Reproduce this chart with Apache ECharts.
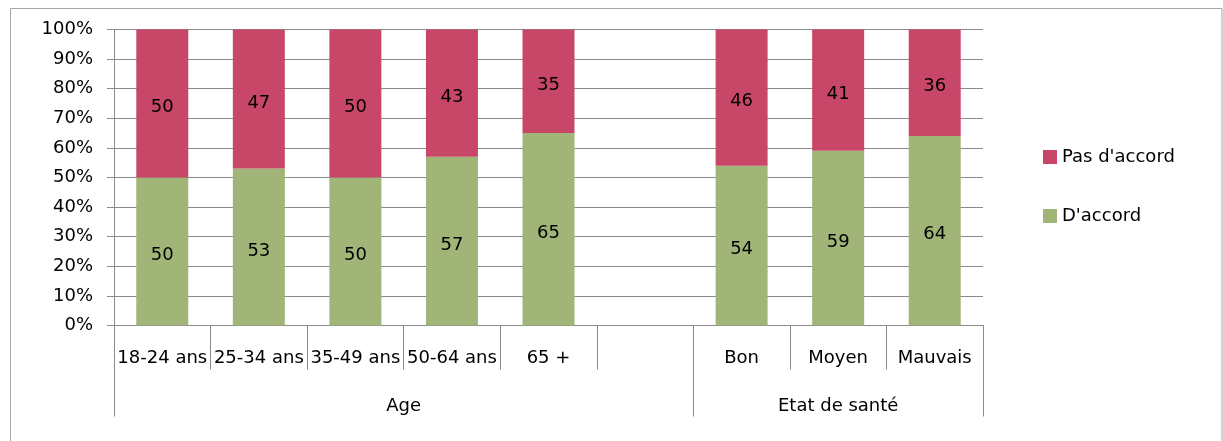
<!DOCTYPE html>
<html>
<head>
<meta charset="utf-8">
<script src="https://cdn.jsdelivr.net/npm/echarts@6/dist/echarts.min.js"></script>
<style>
  html, body { margin: 0; padding: 0; background: #fff; }
  #chart { width: 1223px; height: 441px; }
</style>
</head>
<body>
<div id="chart"></div>
<script>
// Categories (an empty slot separates the two groups)
const categories = ['18-24 ans', '25-34 ans', '35-49 ans', '50-64 ans', '65 +', '', 'Bon', 'Moyen', 'Mauvais'];
// Shares in percent for each category
const dAccord = [50, 53, 50, 57, 65, null, 54, 59, 64];
const pasDAccord = [50, 47, 50, 43, 35, null, 46, 41, 36];
// Group labels with their position along the category span (in bands)
const groupNames = ['Age', 'Etat de santé'];
const groupCenters = [3, 7.5];
const groupBounds = [0, 6, 9];
const yTicks = [0, 10, 20, 30, 40, 50, 60, 70, 80, 90, 100];

const FONT = 'DejaVu Sans';
const GRAY = '#8a8a8a';
const TXT = '#000';

const chart = echarts.init(document.getElementById('chart'), null, { renderer: 'canvas' });

chart.setOption({
  animation: false,
  backgroundColor: '#fff',
  textStyle: { fontFamily: FONT, fontSize: 18, color: TXT },
  graphic: [{
    type: 'rect',
    shape: { x: 10.5, y: 8.5, width: 1211.5, height: 460 },
    style: { fill: 'none', stroke: '#a6a6a6', lineWidth: 1 },
    silent: true,
    z: -1
  }],
  grid: { left: 114, right: 240, top: 29.5, bottom: 115.5 },
  legend: {
    orient: 'vertical',
    left: 1043,
    top: 148,
    padding: 0,
    itemWidth: 14,
    itemHeight: 14,
    itemGap: 41,
    icon: 'rect',
    data: ['Pas d\'accord', 'D\'accord'],
    textStyle: { fontFamily: FONT, fontSize: 18, color: TXT }
  },
  xAxis: [{
    type: 'category',
    data: categories,
    position: 'bottom',
    axisLine: { show: true, lineStyle: { color: GRAY, width: 1 } },
    axisTick: { show: true, length: 44, interval: 0, lineStyle: { color: GRAY, width: 1 } },
    axisLabel: { interval: 0, margin: 24, fontFamily: FONT, fontSize: 18, color: TXT, lineHeight: 18 },
    splitLine: { show: false }
  }, {
    type: 'value',
    min: 0,
    max: 9,
    position: 'bottom',
    axisLine: { show: false },
    splitLine: { show: false },
    axisTick: {
      show: true, length: 91, customValues: groupBounds,
      lineStyle: { color: GRAY, width: 1 }
    },
    axisLabel: {
      customValues: groupCenters,
      margin: 72,
      fontFamily: FONT, fontSize: 18, color: TXT, lineHeight: 18,
      formatter: v => groupNames[groupCenters.indexOf(v)] || ''
    }
  }],
  yAxis: {
    type: 'value',
    min: 0,
    max: 100,
    interval: 10,
    axisLine: { show: true, lineStyle: { color: GRAY, width: 1 } },
    axisTick: { show: true, length: 7, lineStyle: { color: GRAY, width: 1 } },
    axisLabel: {
      margin: 21, fontFamily: FONT, fontSize: 18, color: TXT,
      padding: [6, 0, 0, 0],
      formatter: v => yTicks.includes(v) ? v + '%' : ''
    },
    splitLine: { show: true, lineStyle: { color: GRAY, width: 1 } }
  },
  series: [{
    name: 'D\'accord',
    type: 'bar',
    stack: 'total',
    xAxisIndex: 0,
    barWidth: 52,
    data: dAccord,
    itemStyle: { color: '#A0B577' },
    label: { show: true, position: 'inside', offset: [0, 4], fontFamily: FONT, fontSize: 18, color: TXT }
  }, {
    name: 'Pas d\'accord',
    type: 'bar',
    stack: 'total',
    xAxisIndex: 0,
    barWidth: 52,
    data: pasDAccord,
    itemStyle: { color: '#C84768' },
    label: { show: true, position: 'inside', offset: [0, 4], fontFamily: FONT, fontSize: 18, color: TXT }
  }]
});
</script>
</body>
</html>
